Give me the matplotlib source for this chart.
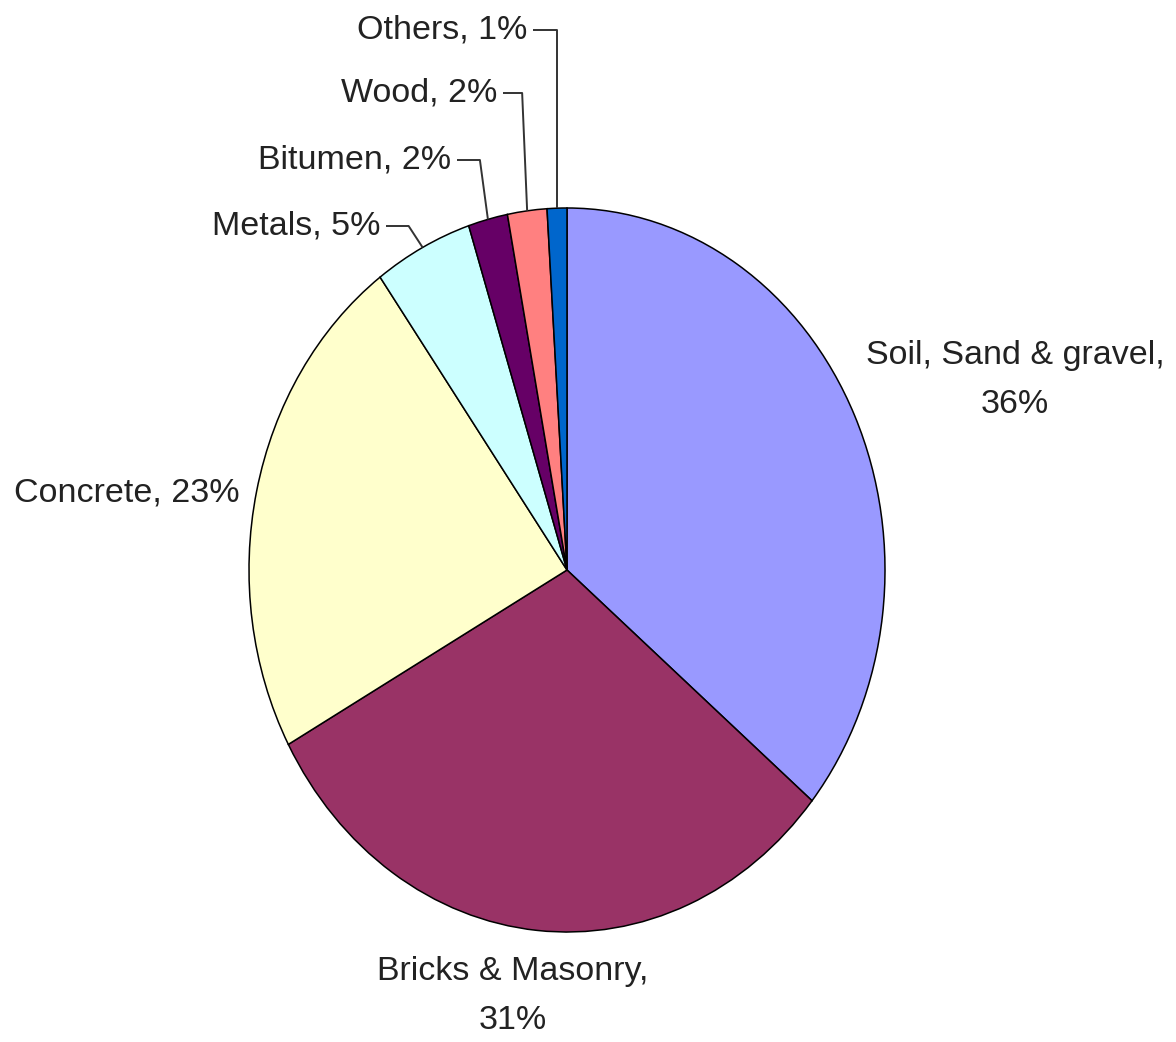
import numpy as np
import matplotlib
matplotlib.use("Agg")
import matplotlib.pyplot as plt

categories = ["Soil, Sand & gravel", "Bricks & Masonry", "Concrete", "Metals",
              "Bitumen", "Wood", "Others"]
values = [36, 31, 23, 5, 2, 2, 1]
colors = ["#9999FF", "#993366", "#FFFFCC", "#CCFFFF", "#660066", "#FF8080", "#0066CC"]

W, H = 1176, 1042
CX, CY, RX, RY = 567, 570, 318, 362

plt.rcParams['font.family'] = ['Liberation Sans', 'DejaVu Sans']

fig = plt.figure(figsize=(W / 100, H / 100), dpi=100)
ax = fig.add_axes([0, 0, 1, 1])
ax.pie(values, colors=colors, startangle=90, counterclock=False,
       wedgeprops=dict(edgecolor='black', linewidth=1.1))
ax.set_aspect('auto')
ax.set_xlim(-CX / RX, (W - CX) / RX)
ax.set_ylim(-(H - CY) / RY, CY / RY)
ax.axis('off')


def px(x, y):
    return (x - CX) / RX, (CY - y) / RY


FS = 24.5
TC = '#222222'
# big labels
x, y = px(1015, 380)
ax.text(x, y, f"{categories[0]},\n{values[0]}%", ha='center', va='center', fontsize=FS,
        linespacing=1.75, color=TC)
x, y = px(513, 996)
ax.text(x, y, f"{categories[1]},\n{values[1]}%", ha='center', va='center', fontsize=FS,
        linespacing=1.75, color=TC)
x, y = px(240, 493)
ax.text(x, y, f"{categories[2]}, {values[2]}%", ha='right', va='center', fontsize=FS,
        color=TC)

# small labels with leader lines
small = {3: (380, 226, 14), 4: (451, 160, 8), 5: (497, 93, 5), 6: (527, 30, 0)}
cum = np.concatenate([[0], np.cumsum(values)])
total = sum(values)
for i, (tx, ty, knee) in small.items():
    mid = 90 - 360 * (cum[i] + cum[i + 1]) / 2 / total
    ex, ey = np.cos(np.radians(mid)), np.sin(np.radians(mid))
    x, y = px(tx, ty)
    ax.text(x, y, f"{categories[i]}, {values[i]}%", ha='right', va='center', fontsize=FS,
            color=TC)
    sx = x + 6 / RX
    kx = ex - knee / RX
    ax.plot([sx, kx, ex], [y, y, ey], color='#333333', lw=1.4, solid_capstyle='butt')

fig.savefig("out.png", dpi=100, facecolor='white')
